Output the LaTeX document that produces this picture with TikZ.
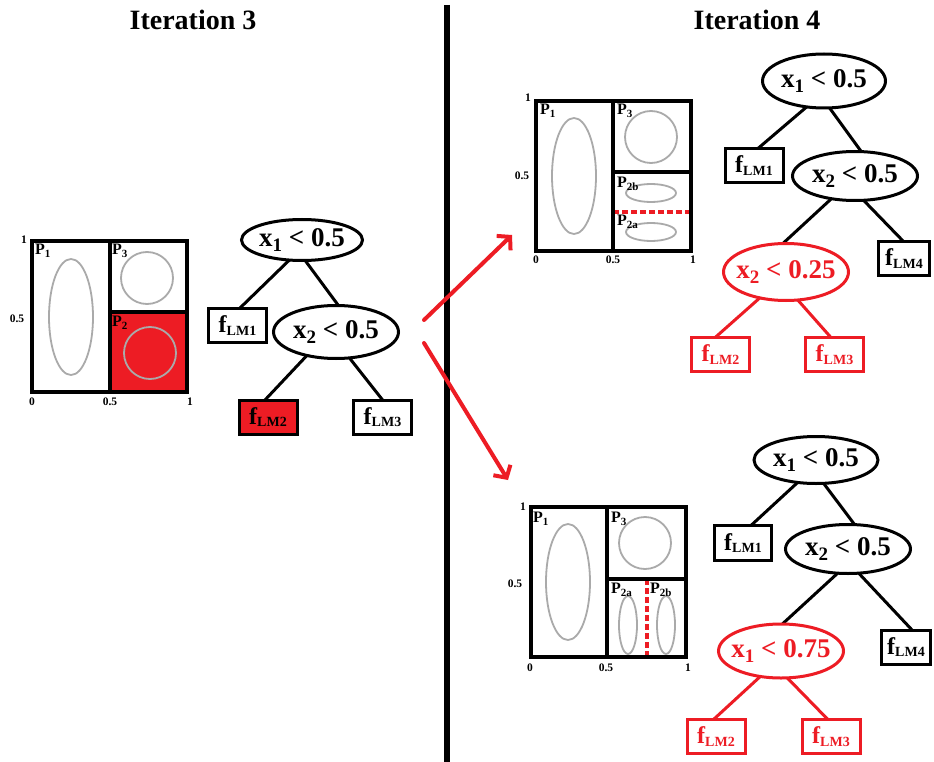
\documentclass[tikz,border=0pt]{standalone}
\usepackage{fontspec}
\setmainfont{Liberation Serif}
\usetikzlibrary{shapes.geometric,arrows.meta,backgrounds,calc}
\definecolor{myred}{RGB}{237,28,36}
\definecolor{ellgray}{RGB}{170,170,170}
\newcommand{\fs}[1]{\fontsize{#1}{#1}\selectfont}
\newcommand{\leaf}[1]{f\raisebox{-2.5pt}{\fs{14}LM#1}}
\newcommand{\xlt}[2]{x\raisebox{-5pt}{\fs{19}#1} < #2}
\newcommand{\plab}[1]{P\raisebox{-3pt}{\fs{11}#1}}
\tikzset{
 split/.style={ellipse, draw, line width=3pt, fill=white, inner xsep=-6pt, inner ysep=0pt, font=\bfseries\fs{27}},
 leafbox/.style={rectangle, draw, line width=3pt, fill=white, inner sep=0pt, minimum width=58pt, minimum height=34pt, font=\bfseries\fs{24}},
 redsplit/.style={split, draw=myred, text=myred},
 redleaf/.style={leafbox, draw=myred, text=myred},
 edge/.style={line width=3pt},
 rededge/.style={edge, draw=myred},
 part/.style={line width=4pt},
 region/.style={draw=ellgray, line width=1.8pt},
 cut/.style={draw=myred, line width=3.5pt, dash pattern=on 6pt off 3pt},
 plabel/.style={font=\bfseries\fs{16}, inner sep=0pt, anchor=north west},
 axis/.style={font=\bfseries\fs{11.5}, inner sep=0pt},
 flow/.style={draw=myred, line width=4pt, line cap=round, -{Straight Barb[length=9pt,width=20pt]}},
 title/.style={font=\bfseries\fs{28}, inner sep=0pt},
}
\begin{document}
\begin{tikzpicture}[x=1pt,y=-1pt]
\useasboundingbox (0,0) rectangle (934,762);
\begin{pgfonlayer}{background}
\fill[white] (0,0) rectangle (934,762);
\end{pgfonlayer}

% titles and divider
\node[title] (t3) at (193,20) {Iteration 3};
\node[title] (t4) at (757,20) {Iteration 4};
\draw[line width=6pt] (447,5) -- (447,762);

% ---------- left partition ----------
\fill[myred] (110,312) rectangle (187,392);
\draw[region] (71,317) ellipse [x radius=22pt, y radius=58pt];
\draw[region] (147,278) circle [radius=26pt];
\draw[region] (150,353) circle [radius=26pt];
\draw[part] (32,241) rectangle (187,392);
\draw[part] (110,241) -- (110,392);
\draw[part] (110,312) -- (187,312);
\node[plabel] (lp1) at (35,244) {\plab{1}};
\node[plabel] (lp3) at (112,244) {\plab{3}};
\node[plabel] (lp2) at (112,316) {\plab{2}};
\node[axis] (la1) at (24,240) {1};
\node[axis] (la5) at (17,319) {0.5};
\node[axis] (lb0) at (32,402) {0};
\node[axis] (lb5) at (110,402) {0.5};
\node[axis] (lb1) at (190,402) {1};

% ---------- left tree ----------
\node[split, minimum width=121pt, minimum height=41pt] (L0) at (302,240) {\xlt{1}{0.5}};
\node[leafbox] (L1) at (237.5,325.5) {\leaf{1}};
\node[split, minimum width=125pt, minimum height=53pt] (L2) at (336,332) {\xlt{2}{0.5}};
\node[leafbox, fill=myred] (L3) at (268,417) {\leaf{2}};
\node[leafbox] (L4) at (382.5,417) {\leaf{3}};

% ---------- top right partition ----------
\draw[region] (574,176) ellipse [x radius=22pt, y radius=58pt];
\draw[region] (651,137) circle [radius=26pt];
\draw[region] (651,193) ellipse [x radius=25pt, y radius=9pt];
\draw[region] (651,232) ellipse [x radius=25pt, y radius=9pt];
\draw[cut] (613,212) -- (691,212);
\draw[part] (536,101) rectangle (691,251);
\draw[part] (613,101) -- (613,251);
\draw[part] (613,172) -- (691,172);
\node[plabel] (ap1) at (540,104) {\plab{1}};
\node[plabel] (ap3) at (617,104) {\plab{3}};
\node[plabel] (ap2b) at (617,177) {\plab{2b}};
\node[plabel] (ap2a) at (617,215) {\plab{2a}};
\node[axis] (aa1) at (528,98) {1};
\node[axis] (aa5) at (522,176) {0.5};
\node[axis] (ab0) at (536,260) {0};
\node[axis] (ab5) at (613,260) {0.5};
\node[axis] (ab1) at (693,260) {1};

% ---------- top right tree ----------
\node[split, minimum width=123pt, minimum height=54pt] (A0) at (824,81) {\xlt{1}{0.5}};
\node[leafbox] (A1) at (754,165.5) {\leaf{1}};
\node[split, minimum width=125pt, minimum height=49pt] (A2) at (855,176) {\xlt{2}{0.5}};
\node[leafbox, minimum width=51pt] (A3) at (904,258.5) {\leaf{4}};
\node[redsplit, minimum width=125pt, minimum height=57pt] (A4) at (786,272) {\xlt{2}{0.25}};
\node[redleaf] (A5) at (720.5,354.5) {\leaf{2}};
\node[redleaf] (A6) at (834.5,354.5) {\leaf{3}};

% ---------- bottom right partition ----------
\draw[region] (568,582) ellipse [x radius=22pt, y radius=58pt];
\draw[region] (645,543) circle [radius=26pt];
\draw[region] (628,625) ellipse [x radius=9pt, y radius=29pt];
\draw[region] (666,625) ellipse [x radius=9pt, y radius=29pt];
\draw[cut] (647,579) -- (647,657);
\draw[part] (531,507) rectangle (686,657);
\draw[part] (607,507) -- (607,657);
\draw[part] (607,579) -- (686,579);
\node[plabel] (bp1) at (533,512) {\plab{1}};
\node[plabel] (bp3) at (611,512) {\plab{3}};
\node[plabel] (bp2a) at (611,583) {\plab{2a}};
\node[plabel] (bp2b) at (650,583) {\plab{2b}};
\node[axis] (ba1) at (523,507) {1};
\node[axis] (ba5) at (515,584) {0.5};
\node[axis] (bb0) at (530,668) {0};
\node[axis] (bb5) at (606,668) {0.5};
\node[axis] (bb1) at (688,668) {1};

% ---------- bottom right tree ----------
\node[split, minimum width=124pt, minimum height=47pt] (B0) at (816,460) {\xlt{1}{0.5}};
\node[leafbox, minimum width=57pt, minimum height=35pt] (B1) at (743,543) {\leaf{1}};
\node[split, minimum width=125pt, minimum height=49pt] (B2) at (848,549) {\xlt{2}{0.5}};
\node[leafbox, minimum width=49pt] (B3) at (906,647) {\leaf{4}};
\node[redsplit, minimum width=125pt, minimum height=54pt] (B4) at (781,651) {\xlt{1}{0.75}};
\node[redleaf] (B5) at (716,736.5) {\leaf{2}};
\node[redleaf] (B6) at (831,736.5) {\leaf{3}};

% ---------- edges (behind nodes) ----------
\begin{pgfonlayer}{background}
\draw[edge] ([xshift=8pt]L0.center) -- ([xshift=-15.5pt]L1.center);
\draw[edge] ([xshift=-12pt]L0.center) -- ([xshift=22pt]L2.center);
\draw[edge] ([xshift=-7pt]L2.center) -- ([xshift=-19pt]L3.center);
\draw[edge] ([xshift=-7pt]L2.center) -- ([xshift=13.5pt]L4.center);

\draw[edge] ([xshift=13pt]A0.center) -- ([xshift=-16pt]A1.center);
\draw[edge] ([xshift=-14pt]A0.center) -- ([xshift=24pt]A2.center);
\draw[edge] ([xshift=1pt]A2.center) -- ([xshift=-34pt]A4.center);
\draw[edge] ([xshift=-15pt]A2.center) -- ([xshift=16pt]A3.center);
\draw[rededge] ([xshift=3pt]A4.center) -- ([xshift=-24.5pt]A5.center);
\draw[rededge] ([xshift=-13pt]A4.center) -- ([xshift=11.5pt]A6.center);

\draw[edge] ([xshift=6pt]B0.center) -- ([xshift=-11pt]B1.center);
\draw[edge] ([xshift=-10pt]B0.center) -- ([xshift=25pt]B2.center);
\draw[edge] ([xshift=16pt]B2.center) -- ([xshift=-28pt]B4.center);
\draw[edge] ([xshift=-12pt]B2.center) -- ([xshift=22pt]B3.center);
\draw[rededge] ([xshift=7pt]B4.center) -- ([xshift=-21pt]B5.center);
\draw[rededge] ([xshift=-20pt]B4.center) -- ([xshift=13.5pt]B6.center);
\end{pgfonlayer}

% ---------- arrows ----------
\coordinate (u0) at (424,320);
\coordinate (u1) at (512,235);
\coordinate (d0) at (424,343);
\coordinate (d1) at (508,480);
\draw[flow] (u0) -- (u1);
\draw[flow] (d0) -- (d1);
\end{tikzpicture}
\end{document}
